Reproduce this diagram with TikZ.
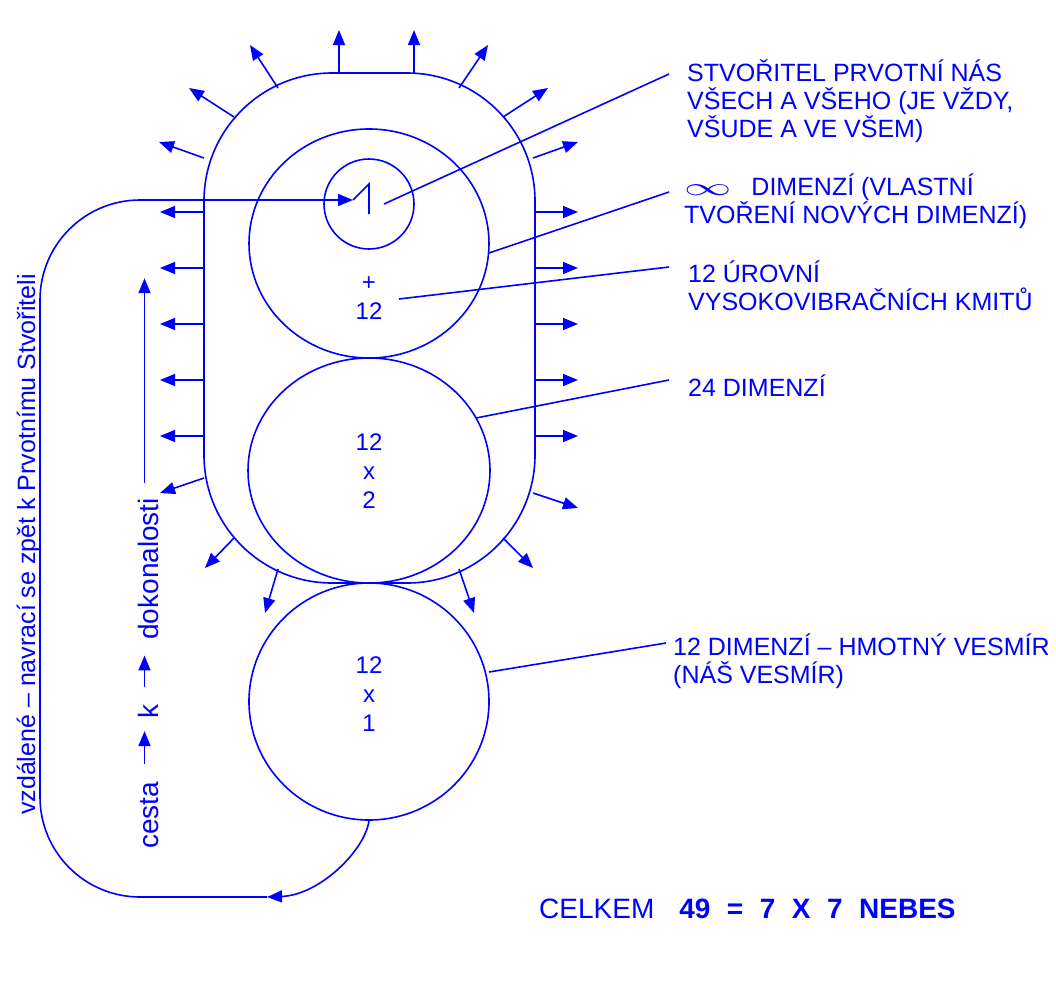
\documentclass[tikz,border=0pt]{standalone}
\usepackage{graphicx}
\usepackage{fontspec}
\setmainfont{Liberation Sans}
\usetikzlibrary{shapes.geometric,arrows.meta}
\newcommand\tarr[1]{\tikz[baseline=0pt]\draw[blue,line width=1.6pt,-{Triangle[length=15pt,width=12pt]}] (0pt,14pt) -- (#1,14pt);}
\begin{document}
\begin{tikzpicture}[x=1pt,y=-1pt,
  ln/.style={draw=blue,line width=1.6pt},
  arr/.style={ln,-{Triangle[length=15pt,width=12pt]}},
  lab/.style={text=blue,inner sep=0pt,anchor=base west,align=left,font=\fontsize{25}{28}\selectfont},
  num/.style={text=blue,inner sep=0pt,align=center,font=\fontsize{24}{29}\selectfont},
  ring/.style={ln,ellipse,inner sep=0pt}]
\useasboundingbox (0,0) rectangle (1056,980);
% shapes
\node[ln,rectangle,rounded corners=128pt,minimum width=331pt,minimum height=510pt,inner sep=0pt] (outer) at (369.5,328) {};
\node[ring,minimum width=240pt,minimum height=229pt] (c1) at (369,243.5) {};
\node[ring,minimum width=242pt,minimum height=225pt] (c2) at (369,470.5) {};
\node[ring,minimum width=240pt,minimum height=237pt] (c3) at (369,701.5) {};
\node[ln,circle,minimum size=90pt,inner sep=0pt] (c0) at (369,204) {};
% texts in circles
\node[num] (t1) at (369,298) {+\\12};
\node[num] (t2) at (369,471) {12\\x\\2};
\node[num] (t3) at (369,694) {12\\x\\1};
% symbol in small circle
\coordinate (z1) at (353,200);
\coordinate (z2) at (369,184);
\coordinate (z3) at (369,214);
\draw[ln] (z1) -- (z2) -- (z3);
% radial arrows
\foreach \a/\b/\c/\d in {339/73/339/30, 414/73/414/30, 278/88/250/45, 459/88/488/45,
  234/117/189/88, 503/117/548/88, 204/158/159/142, 533/158/578/142,
  204/212/160/212, 204/268/160/268, 204/324/160/324, 204/380/160/380, 204/436/160/436,
  535/212/578/212, 535/268/578/268, 535/324/578/324, 535/380/578/380, 535/436/578/436,
  204/478/160/493, 533/493/578/508, 234/538/205/568, 503/538/533/568,
  278/569/265/613, 459/569/474/613}
  {\draw[arr] (\a,\b) -- (\c,\d);}
% loop back
\coordinate (lm) at (267,897);
\draw[arr] (c3.south) .. controls (365,850) and (320,895) .. (lm);
\draw[arr,rounded corners=100pt] (lm) -- (40,897) -- (40,200) -- (z1);
% vertical texts
\node[text=blue,rotate=90,anchor=base west,inner sep=0pt,font=\fontsize{25}{30}\selectfont] (vz) at (35,815) {vzdálené – navrací se zpět k Prvotnímu Stvořiteli};
\node[text=blue,rotate=90,anchor=base west,inner sep=0pt,font=\fontsize{28}{32}\selectfont] (cesta) at (158.5,849) {cesta\hspace{17pt}\tarr{33pt}\hspace{12pt}k\hspace{16pt}\tarr{32pt}\hspace{15pt}dokonalosti\hspace{14pt}\tarr{205pt}};
% labels
\node[lab] (L1) at (687,137) {STVOŘITEL PRVOTNÍ NÁS\\VŠECH A VŠEHO (JE VŽDY,\\VŠUDE A VE VŠEM)};
\node[lab] (L2) at (684,223) {{\scalebox{1.9}[1]{$\infty$}}\hspace{20pt}DIMENZÍ (VLASTNÍ\\TVOŘENÍ NOVÝCH DIMENZÍ)};
\node[lab] (L3) at (688,310) {12 ÚROVNÍ\\VYSOKOVIBRAČNÍCH KMITŮ};
\node[lab] (L4) at (688,396) {24 DIMENZÍ};
\node[lab] (L5) at (673,683) {12 DIMENZÍ – HMOTNÝ VESMÍR\\(NÁŠ VESMÍR)};
% label connectors
\coordinate (p1) at (384,204); \coordinate (q1) at (669,74);
\coordinate (p2) at (489,253); \coordinate (q2) at (669,192);
\coordinate (p3) at (399,299); \coordinate (q3) at (669,267);
\coordinate (p4) at (476,418); \coordinate (q4) at (669,380);
\coordinate (p5) at (489,672); \coordinate (q5) at (666,643);
\draw[ln] (p1) -- (q1);
\draw[ln] (p2) -- (q2);
\draw[ln] (p3) -- (q3);
\draw[ln] (p4) -- (q4);
\draw[ln] (p5) -- (q5);
% total
\node[text=blue,anchor=base west,inner sep=0pt,font=\fontsize{28}{32}\selectfont] (tot) at (539,918) {CELKEM\hspace{25pt}\textbf{49\hspace{16.5pt}=\hspace{16.5pt}7\hspace{16.5pt}X\hspace{16.5pt}7\hspace{16.5pt}NEBES}};
\end{tikzpicture}
\end{document}
